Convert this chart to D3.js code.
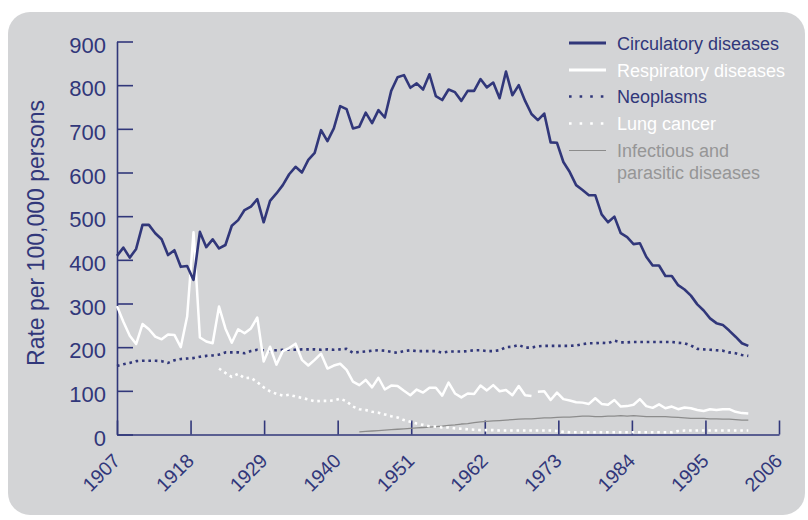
<!DOCTYPE html>
<html>
<head>
<meta charset="utf-8">
<script src="https://cdn.jsdelivr.net/npm/d3@7"></script>
<style>
  body { margin: 0; background: #fff; }
  svg text { font-family: "Liberation Sans", Arial, sans-serif; }
</style>
</head>
<body>
<div id="chart"></div>
<script>
// rates per 100,000 persons, one value per year
const circulatory = [ // 1907-2006
  409, 428, 405, 425, 480, 480, 461, 447, 411, 422,
  384, 386, 354, 464, 429, 447, 426, 434, 478, 491,
  514, 522, 539, 486, 535, 552, 571, 596, 613, 600,
  629, 645, 697, 672, 701, 752, 745, 701, 705, 737,
  713, 743, 726, 787, 818, 823, 794, 804, 790, 825,
  775, 766, 790, 784, 764, 787, 787, 814, 795, 806,
  770, 831, 777, 800, 764, 734, 720, 735, 669, 668,
  624, 601, 571, 560, 548, 548, 504, 486, 499, 461,
  452, 436, 438, 407, 387, 387, 363, 363, 342, 332,
  318, 298, 284, 266, 255, 251, 238, 224, 209, 203
];
const respiratoryEarly = [ // 1907-1972
  294, 258, 226, 207, 253, 241, 224, 218, 229, 228,
  200, 270, 463, 222, 213, 209, 293, 243, 210, 241,
  232, 243, 268, 167, 201, 160, 191, 198, 208, 171,
  158, 171, 185, 151, 158, 162, 148, 121, 113, 125,
  108, 130, 103, 112, 111, 100, 90, 103, 96, 107,
  107, 89, 119, 94, 85, 94, 93, 112, 101, 113,
  99, 102, 90, 111, 90, 88
];
const respiratoryLate = [ // 1973-2006
  98, 99, 79, 96, 81, 78, 74, 73, 70, 83,
  70, 68, 79, 64, 65, 68, 81, 65, 61, 69,
  60, 64, 58, 62, 60, 56, 54, 58, 56, 58,
  58, 52, 49, 48
];
const neoplasms = [ // 1907-2006
  157, 161, 164, 168, 169, 169, 169, 168, 164, 170,
  173, 174, 175, 178, 180, 181, 183, 188, 188, 188,
  186, 191, 194, 193, 193, 193, 194, 194, 194, 195,
  195, 195, 194, 195, 194, 195, 196, 187, 189, 190,
  192, 193, 192, 189, 187, 191, 193, 191, 191, 191,
  191, 187, 190, 190, 190, 191, 193, 193, 191, 191,
  193, 200, 201, 205, 199, 199, 202, 203, 203, 203,
  203, 203, 204, 207, 209, 209, 210, 209, 215, 211,
  211, 212, 212, 212, 212, 212, 212, 212, 210, 209,
  204, 196, 195, 194, 193, 192, 188, 186, 182, 180
];
const lungCancer = [ // 1923-2006
  151, 141, 132, 139, 129, 130, 120, 108, 99, 93,
  89, 91, 87, 84, 80, 76, 77, 77, 78, 82,
  76, 64, 58, 56, 52, 50, 46, 42, 39, 33,
  29, 25, 22, 19, 18, 16, 16, 14, 13, 12,
  11, 10, 10, 10, 9, 9, 9, 9, 9, 9,
  9, 9, 9, 8, 6, 5, 5, 5, 5, 5,
  5, 5, 5, 5, 5, 5, 5, 5, 5, 5,
  5, 5, 8, 9, 9, 9, 9, 9, 9, 9,
  9, 9, 9, 9
];
const infectious = [ // 1945-2006
  6, 7, 8, 9, 10, 11, 12, 13, 14, 15,
  16, 17, 18, 19, 21, 22, 24, 25, 27, 29,
  30, 31, 32, 33, 34, 35, 36, 36, 37, 38,
  38, 39, 40, 40, 41, 42, 42, 41, 41, 42,
  42, 43, 42, 43, 42, 41, 41, 41, 41, 40,
  39, 38, 37, 37, 37, 36, 36, 35, 35, 34,
  33, 33
];

const yTicks = [0, 100, 200, 300, 400, 500, 600, 700, 800, 900];
const xTickLabels = ['1907', '1918', '1929', '1940', '1951', '1962', '1973', '1984', '1995', '2006'];
const legendLabels = ['Circulatory diseases', 'Respiratory diseases', 'Neoplasms', 'Lung cancer', 'Infectious and|parasitic diseases'];

const navy = '#31377a';
const width = 808, height = 520;

function toPoints(values, start) {
  return values.map(function(v, i) { return {year: start + i, value: v}; });
}

// drawing order: thin grey first, circulatory on top
const series = [
  {data: toPoints(infectious, 1945), color: '#8c8c8c', width: 1.3, dash: null},
  {data: toPoints(lungCancer, 1923), color: '#ffffff', width: 2.6, dash: '2.6,3.8'},
  {data: toPoints(neoplasms, 1907), color: navy, width: 2.6, dash: '2.6,3.8'},
  {data: toPoints(respiratoryEarly, 1907), color: '#ffffff', width: 2.5, dash: null},
  {data: toPoints(respiratoryLate, 1973), color: '#ffffff', width: 2.5, dash: null},
  {data: toPoints(circulatory, 1907), color: navy, width: 2.6, dash: null}
];

const legendStyles = [
  {color: navy, text: navy, width: 2.8, dash: null},
  {color: '#ffffff', text: '#ffffff', width: 2.8, dash: null},
  {color: navy, text: navy, width: 2.6, dash: '2.6,8'},
  {color: '#ffffff', text: '#ffffff', width: 2.6, dash: '2.6,8'},
  {color: '#8c8c8c', text: '#969696', width: 1.2, dash: null}
];

const svg = d3.select('#chart')
  .append('svg')
  .attr('width', width)
  .attr('height', height);

// grey rounded panel
svg.append('rect')
  .attr('x', 8).attr('y', 12)
  .attr('width', 797).attr('height', 503)
  .attr('rx', 22)
  .attr('fill', '#d3d4d6');

// data positions and axis tick positions don't line up in the original
const x = d3.scaleLinear().domain([1907, 2006]).range([117, 748.3]);
const xAxisScale = d3.scalePoint().domain(xTickLabels).range([117, 779]);
const y = d3.scaleLinear().domain([0, 900]).range([434.5, 41.5]);

// y axis
const yAxis = svg.append('g')
  .attr('class', 'y axis')
  .attr('transform', 'translate(117,0)')
  .call(d3.axisLeft(y).tickValues(yTicks).tickSize(-16).tickSizeOuter(0).tickPadding(11));

// x axis
const xAxis = svg.append('g')
  .attr('class', 'x axis')
  .attr('transform', 'translate(0,434.5)')
  .call(d3.axisBottom(xAxisScale).tickSize(-14).tickSizeOuter(0));

svg.selectAll('.axis path, .axis line')
  .attr('stroke', navy)
  .attr('stroke-width', 1.6);

yAxis.selectAll('text')
  .attr('fill', navy)
  .attr('font-size', 22)
  .attr('dy', '0.48em');

xAxis.selectAll('text')
  .attr('fill', navy)
  .attr('font-size', 19.5)
  .attr('text-anchor', 'end')
  .attr('x', 0).attr('y', 0).attr('dy', null)
  .attr('transform', 'translate(4,27.5) rotate(-45)');

svg.selectAll('.axis').attr('font-family', null);

// axis title
svg.append('text')
  .attr('transform', 'translate(44,233) rotate(-90)')
  .attr('text-anchor', 'middle')
  .attr('fill', navy)
  .attr('font-size', 23)
  .text('Rate per 100,000 persons');

// series
const line = d3.line()
  .x(function(d) { return x(d.year); })
  .y(function(d) { return y(d.value); });

svg.selectAll('.series')
  .data(series)
  .enter()
  .append('path')
  .attr('class', 'series')
  .attr('d', function(d) { return line(d.data); })
  .attr('fill', 'none')
  .attr('stroke', function(d) { return d.color; })
  .attr('stroke-width', function(d) { return d.width; })
  .attr('stroke-dasharray', function(d) { return d.dash; })
  .attr('stroke-linejoin', 'round');

// legend
const rowY = [43, 70, 96.5, 123.5, 150.5];
const legend = svg.append('g').attr('class', 'legend');

legendLabels.forEach(function(label, i) {
  const st = legendStyles[i];
  legend.append('line')
    .attr('x1', 569).attr('x2', 606)
    .attr('y1', rowY[i]).attr('y2', rowY[i])
    .attr('stroke', st.color)
    .attr('stroke-width', st.width)
    .attr('stroke-dasharray', st.dash);

  const t = legend.append('text')
    .attr('x', 617)
    .attr('y', rowY[i] + 6.5)
    .attr('fill', st.text)
    .attr('font-size', 18);
  label.split('|').forEach(function(part, j) {
    t.append('tspan')
      .attr('x', 617)
      .attr('dy', j === 0 ? 0 : 21.5)
      .text(part);
  });
});
</script>
</body>
</html>
